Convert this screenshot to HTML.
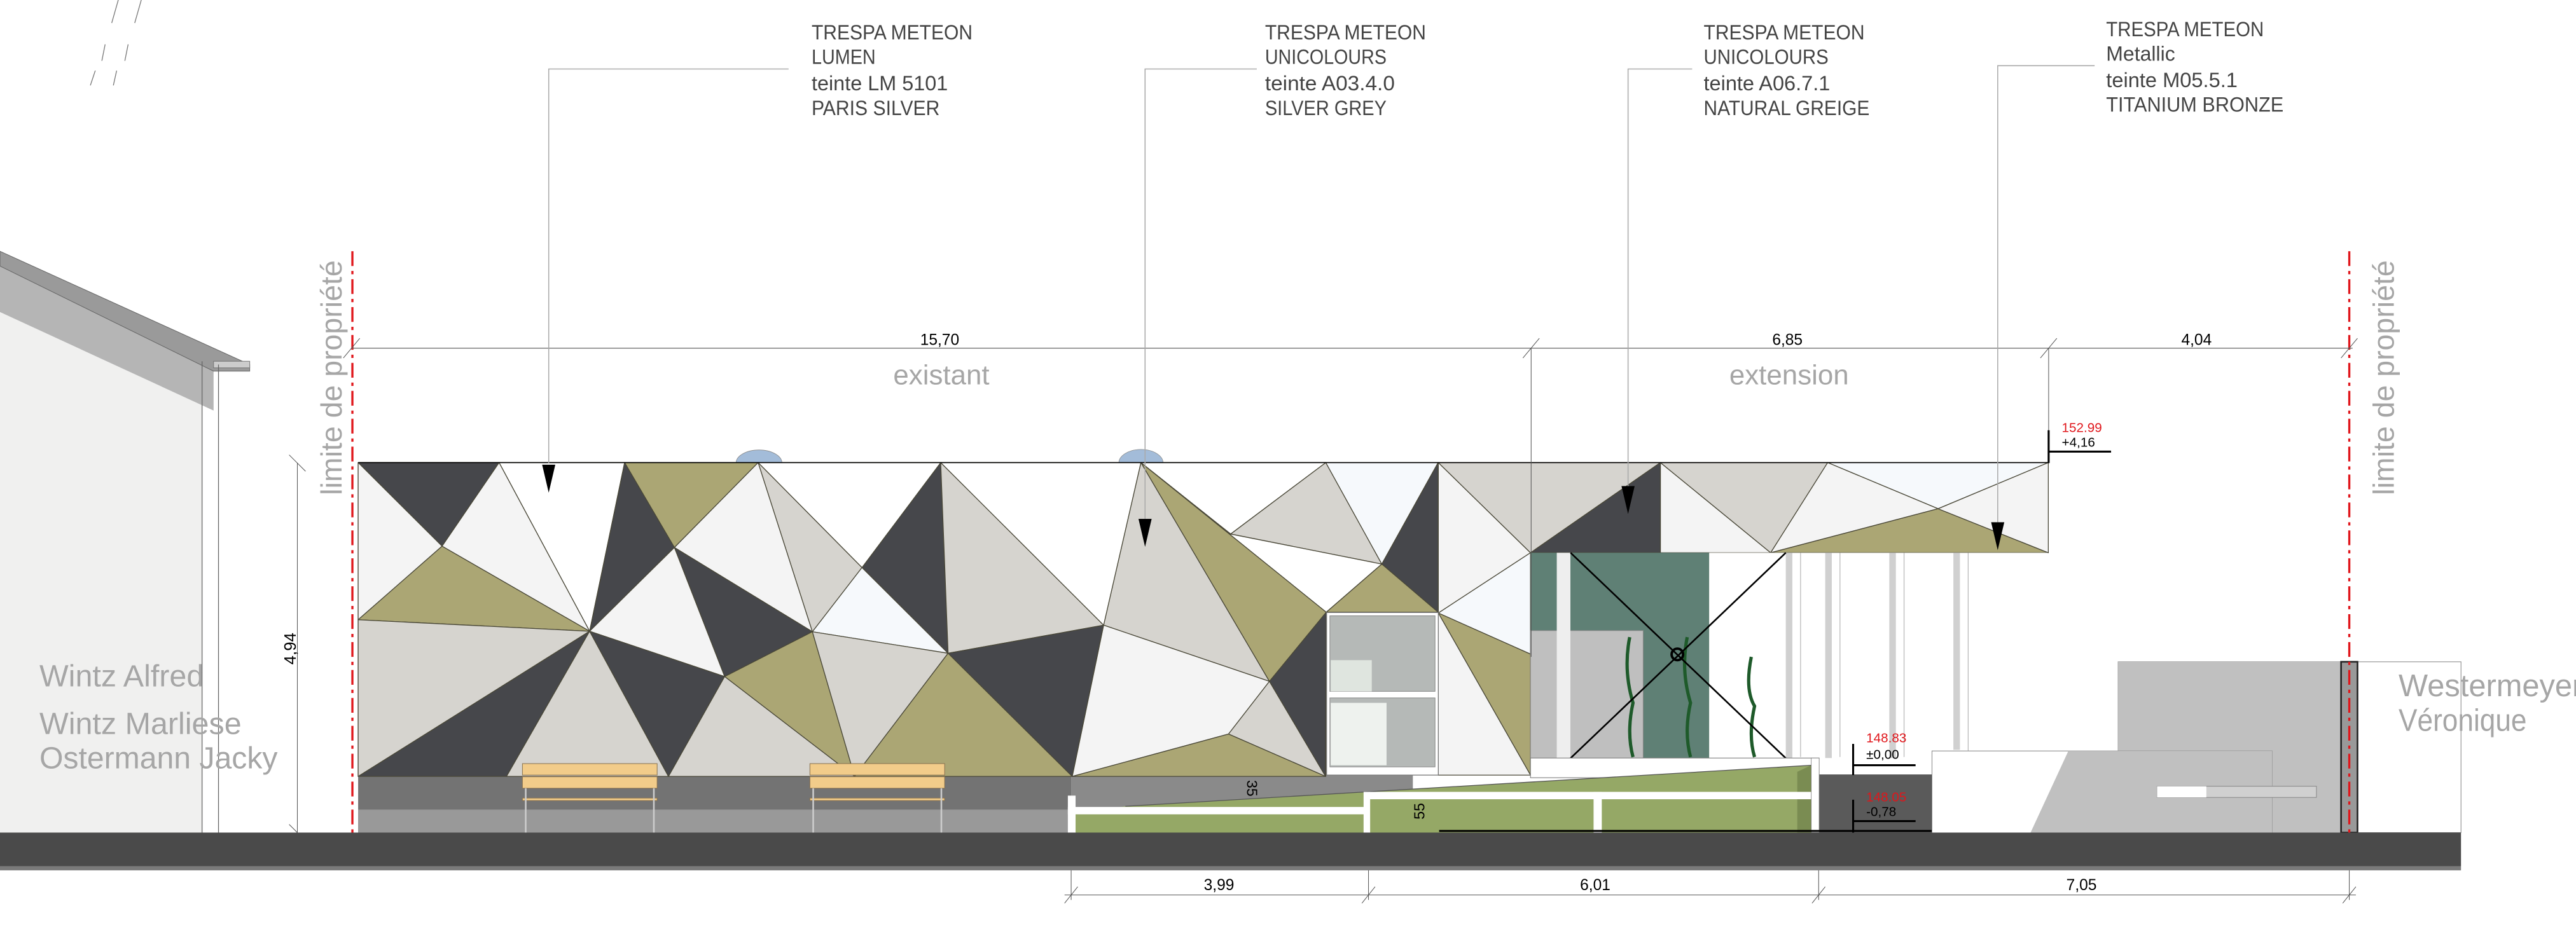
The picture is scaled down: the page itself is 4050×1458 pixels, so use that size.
<!DOCTYPE html>
<html><head><meta charset="utf-8"><style>
html,body{margin:0;padding:0;background:#fff;}
svg{display:block;}
text{font-family:"Liberation Sans",sans-serif;}
</style></head><body>
<svg width="4050" height="1458" viewBox="0 0 1568 564.5" preserveAspectRatio="none" xmlns="http://www.w3.org/2000/svg">
<rect width="1568" height="564.5" fill="#fff"/>

<g stroke="#777" stroke-width="0.5">
<line x1="72" y1="0" x2="68" y2="14"/><line x1="86" y1="0" x2="82" y2="14"/>
<line x1="64" y1="27" x2="62" y2="37"/><line x1="78" y1="27" x2="76" y2="37"/>
<line x1="58" y1="43" x2="55" y2="52"/><line x1="71" y1="43" x2="69" y2="52"/>
</g>

<!-- left house -->
<polygon points="0,157 123,215 123,507 0,507" fill="#f0f0ef"/>
<polygon points="0,157 130,219 130,250 0,190" fill="#b5b5b5"/>
<polygon points="0,153 152,222 152,226 130,226 0,162" fill="#9a9a9a" stroke="#666" stroke-width="0.4"/>
<rect x="130" y="220" width="22" height="4" fill="#ccc" stroke="#777" stroke-width="0.4"/>
<line x1="123" y1="220" x2="123" y2="507" stroke="#666" stroke-width="0.5"/>
<line x1="133" y1="222" x2="133" y2="507" stroke="#666" stroke-width="0.5"/>
<g font-size="18.5" fill="#a6a6a6">
<text x="24" y="418" textLength="100" lengthAdjust="spacingAndGlyphs">Wintz Alfred</text>
<text x="24" y="447" textLength="123" lengthAdjust="spacingAndGlyphs">Wintz Marliese</text>
<text x="24" y="468" textLength="145" lengthAdjust="spacingAndGlyphs">Ostermann Jacky</text>
</g>

<line x1="181" y1="282" x2="181" y2="507" stroke="#555" stroke-width="0.4"/>
<line x1="176" y1="277" x2="186" y2="287" stroke="#555" stroke-width="0.4"/>
<line x1="176" y1="502" x2="186" y2="512" stroke="#555" stroke-width="0.4"/>
<text transform="translate(180,395) rotate(-90)" font-size="10" fill="#000" text-anchor="middle">4,94</text>

<text transform="translate(208,230) rotate(-90)" font-size="18" fill="#a6a6a6" text-anchor="middle">limite de propriété</text>
<text transform="translate(1457,230) rotate(-90)" font-size="18" fill="#a6a6a6" text-anchor="middle">limite de propriété</text>

<rect x="218" y="472" width="434" height="35" fill="#737373"/>
<rect x="218" y="493" width="434" height="14" fill="#999"/>
<polygon points="652,472 860,472 860,485 652,495" fill="#8a8a8a"/>
<rect x="1107" y="471.6" width="69" height="36" fill="#5a5a5a"/>

<path d="M448,282 A14,8 0 0 1 476,282 Z" fill="#a3bcd9" stroke="#888" stroke-width="0.3"/>
<path d="M681,282 A13,8 0 0 1 708,282 Z" fill="#a3bcd9" stroke="#888" stroke-width="0.3"/>

<g stroke="#4a4838" stroke-width="0.5" stroke-linejoin="round">
<rect x="218" y="281.7" width="589" height="191" fill="#f4f4f4"/>
<polygon points="218,281.7 303.8,281.7 269.1,332.6" fill="#46474b"/>
<polygon points="218,281.7 269.1,332.6 218,377.4" fill="#f4f4f4"/>
<polygon points="303.8,281.7 380.2,281.7 358.9,384.4" fill="#ffffff"/>
<polygon points="303.8,281.7 269.1,332.6 358.9,384.4" fill="#f4f4f4"/>
<polygon points="218,377.4 269.1,332.6 358.9,384.4" fill="#aba674"/>
<polygon points="380.2,281.7 461.5,281.7 410.5,333.4" fill="#aba674"/>
<polygon points="380.2,281.7 410.5,333.4 358.9,384.4" fill="#46474b"/>
<polygon points="461.5,281.7 410.5,333.4 494.5,384.7" fill="#f4f4f4"/>
<polygon points="461.5,281.7 524.7,345.6 494.5,384.7" fill="#d6d4cf"/>
<polygon points="410.5,333.4 494.5,384.7 441.1,412" fill="#46474b"/>
<polygon points="410.5,333.4 358.9,384.4 441.1,412" fill="#f4f4f4"/>
<polygon points="524.7,345.6 494.5,384.7 577.1,397.8" fill="#f6f9fc"/>
<polygon points="572.6,281.7 524.7,345.6 577.1,397.8" fill="#46474b"/>
<polygon points="461.5,281.7 572.6,281.7 524.7,345.6" fill="#ffffff"/>
<polygon points="572.6,281.7 577.1,397.8 671.8,380.7" fill="#d6d4cf"/>
<polygon points="572.6,281.7 694.5,281.7 671.8,380.7" fill="#ffffff"/>
<polygon points="218,377.4 358.9,384.4 218,472.8" fill="#d6d4cf"/>
<polygon points="358.9,384.4 218,472.8 308.3,472.8" fill="#46474b"/>
<polygon points="358.9,384.4 308.3,472.8 406.9,472.8" fill="#d6d4cf"/>
<polygon points="358.9,384.4 441.1,412 406.9,472.8" fill="#46474b"/>
<polygon points="441.1,412 494.5,384.7 520.2,472.8" fill="#aba674"/>
<polygon points="441.1,412 520.2,472.8 406.9,472.8" fill="#d6d4cf"/>
<polygon points="494.5,384.7 577.1,397.8 520.2,472.8" fill="#d6d4cf"/>
<polygon points="577.1,397.8 520.2,472.8 652.7,472.8" fill="#aba674"/>
<polygon points="577.1,397.8 671.8,380.7 652.7,472.8" fill="#46474b"/>
<polygon points="694.5,281.7 671.8,380.7 772.7,414.9" fill="#d6d4cf"/>
<polygon points="694.5,281.7 807.3,372.8 772.7,414.9" fill="#aba674"/>
<polygon points="671.8,380.7 772.7,414.9 747.8,447 652.7,472.8" fill="#f4f4f4"/>
<polygon points="772.7,414.9 747.8,447 806.9,472.8" fill="#d6d4cf"/>
<polygon points="772.7,414.9 807.3,372.8 806.9,472.8" fill="#46474b"/>
<polygon points="747.8,447 806.9,472.8 652.7,472.8" fill="#aba674"/>
<polygon points="694.5,281.7 807,281.7 749.1,325.2" fill="#ffffff"/>
<polygon points="749.1,325.2 807,281.7 841.1,343.5" fill="#d6d4cf"/>
<polygon points="807,281.7 875.4,281.7 841.1,343.5" fill="#f6f9fc"/>
<polygon points="749.1,325.2 841.1,343.5 807.3,372.8 694.5,281.7" fill="#ffffff"/>
<polygon points="841.1,343.5 875.4,281.7 875.4,372.8" fill="#46474b"/>
<polygon points="841.1,343.5 875.4,372.8 807.3,372.8" fill="#aba674"/>
<polygon points="875.5,281.7 931.6,336.6 875.5,373.3" fill="#f4f4f4"/>
<polygon points="875.5,281.7 1010.7,281.7 931.6,336.6" fill="#d6d4cf"/>
<polygon points="931.6,336.6 1010.7,281.7 1010.7,336.6" fill="#46474b"/>
<polygon points="1010.7,281.7 1077.8,336.6 1010.7,336.6" fill="#f4f4f4"/>
<polygon points="1010.7,281.7 1112.5,281.7 1077.8,336.6" fill="#d6d4cf"/>
<polygon points="1112.5,281.7 1246.8,281.7 1179.7,309.8" fill="#f6f9fc"/>
<polygon points="1112.5,281.7 1179.7,309.8 1077.8,336.6" fill="#f4f4f4"/>
<polygon points="1077.8,336.6 1179.7,309.8 1246.8,336.6" fill="#aba674"/>
<polygon points="1179.7,309.8 1246.8,281.7 1246.8,336.6" fill="#f4f4f4"/>
<polygon points="875.5,373.3 931.6,336.6 931.6,398.3" fill="#f6f9fc"/>
<polygon points="875.5,373.3 931.6,398.3 931.6,472" fill="#aba674"/>
<polygon points="875.5,373.3 931.6,472 875.5,472" fill="#f4f4f4"/>
</g>
<line x1="218" y1="281.7" x2="1247" y2="281.7" stroke="#000" stroke-width="0.6"/>

<rect x="807.5" y="373" width="68" height="99" fill="#fff" stroke="#777" stroke-width="0.5"/>
<rect x="809.5" y="375" width="64" height="46" fill="#b5b9b7" stroke="#888" stroke-width="0.4"/>
<rect x="810" y="402" width="25" height="19" fill="#dfe5df"/>
<rect x="809.5" y="425" width="64" height="42" fill="#b5b9b7" stroke="#888" stroke-width="0.4"/>
<rect x="810" y="428" width="34" height="38" fill="#eef2ee"/>

<rect x="931.6" y="336.6" width="108.8" height="125" fill="#5f8075"/>
<rect x="931.6" y="384" width="68.6" height="77.7" fill="#bfbfbf" stroke="#888" stroke-width="0.4"/>
<line x1="955" y1="386" x2="955" y2="461" stroke="#999" stroke-width="0.4"/>
<rect x="947.6" y="336.6" width="8.3" height="125" fill="#eee"/>
<rect x="1040.4" y="336.6" width="206" height="125" fill="#fff"/>
<g fill="#d0d0d0">
<rect x="1087" y="336.6" width="4" height="125"/><rect x="1111" y="336.6" width="4" height="125"/>
<rect x="1150" y="336.6" width="4" height="125"/><rect x="1189" y="336.6" width="4" height="120"/>
</g>
<g stroke="#aaa" stroke-width="0.4" fill="none">
<line x1="1096" y1="336.6" x2="1096" y2="461"/><line x1="1120" y1="336.6" x2="1120" y2="461"/>
<line x1="1159" y1="336.6" x2="1159" y2="461"/><line x1="1198" y1="336.6" x2="1198" y2="458"/>
</g>
<g stroke="#1e5a2a" stroke-width="2" fill="none">
<path d="M992,388 q-4,20 2,40 q-4,18 0,33"/>
<path d="M1027,388 q-4,20 2,40 q-4,18 0,33"/>
<path d="M1066,400 q-4,20 2,30 q-4,18 0,31"/>
</g>
<g stroke="#000" stroke-width="1">
<line x1="956" y1="336.6" x2="1087" y2="461.7"/>
<line x1="1087" y1="336.6" x2="956" y2="461.7"/>
</g>
<circle cx="1021" cy="398.5" r="3.5" fill="none" stroke="#000" stroke-width="1.5"/>

<rect x="931.6" y="461.6" width="175.7" height="12" fill="#fff" stroke="#777" stroke-width="0.4"/>

<polygon points="652,507 652,496 685,491 1102.5,466 1107.3,466 1107.3,507" fill="#95a866"/>
<polygon points="1094,470 1102.5,466 1102.5,507 1094,507" fill="#7a8c52"/>
<line x1="685" y1="491" x2="1102.5" y2="466" stroke="#555" stroke-width="0.5"/>
<rect x="650" y="491.4" width="183" height="4.5" fill="#fff"/>
<rect x="833" y="482.2" width="270" height="4.5" fill="#fff"/>
<rect x="650" y="484.5" width="4.7" height="22.5" fill="#fff"/>
<rect x="830" y="482.2" width="4" height="25" fill="#fff"/>
<rect x="970" y="482.2" width="5" height="25" fill="#fff"/>
<rect x="1102.5" y="461.6" width="4.8" height="45.4" fill="#fff" stroke="#777" stroke-width="0.3"/>
<line x1="876" y1="506" x2="1176" y2="506" stroke="#000" stroke-width="1.2"/>
<text transform="translate(759,480) rotate(90)" font-size="9" fill="#000" text-anchor="middle">35</text>
<text transform="translate(867,494) rotate(-90)" font-size="9" fill="#000" text-anchor="middle">55</text>

<g fill="#f2cc8a" stroke="#8a7350" stroke-width="0.4">
<rect x="318" y="465" width="82" height="7"/><rect x="318" y="473" width="82" height="7"/><rect x="318" y="486" width="82" height="1.5"/>
<rect x="493" y="465" width="82" height="7"/><rect x="493" y="473" width="82" height="7"/><rect x="493" y="486" width="82" height="1.5"/>
</g>
<g stroke="#ccc" stroke-width="1">
<line x1="320" y1="480" x2="320" y2="507"/><line x1="398" y1="480" x2="398" y2="507"/>
<line x1="495" y1="480" x2="495" y2="507"/><line x1="573" y1="480" x2="573" y2="507"/>
</g>

<rect x="1289.3" y="403" width="208.7" height="104" fill="#fff" stroke="#888" stroke-width="0.4"/>
<rect x="1289.3" y="403" width="135.7" height="104" fill="#c0c0c0"/>
<rect x="1176" y="457.3" width="207" height="50" fill="#fff" stroke="#888" stroke-width="0.4"/>
<polygon points="1259,457.3 1383,457.3 1383,507 1236,507" fill="#c0c0c0"/>
<rect x="1313" y="478.8" width="97" height="6.8" fill="#d0d0d0" stroke="#888" stroke-width="0.4"/>
<rect x="1313" y="478.8" width="30" height="6.8" fill="#fff"/>
<rect x="1425" y="403" width="10" height="104" fill="#999" stroke="#222" stroke-width="1"/>
<g font-size="19" fill="#a6a6a6">
<text x="1460" y="424" textLength="112" lengthAdjust="spacingAndGlyphs">Westermeyer</text>
<text x="1460" y="445" textLength="78" lengthAdjust="spacingAndGlyphs">Véronique</text>
</g>

<rect x="0" y="507" width="1498" height="20.5" fill="#4a4a4a"/>
<rect x="0" y="527.5" width="1498" height="2.5" fill="#7a7a7a"/>

<line x1="214.5" y1="153" x2="214.5" y2="507" stroke="#e0161b" stroke-width="1.3" stroke-dasharray="9,3,2,3"/>
<line x1="1430" y1="153" x2="1430" y2="507" stroke="#e0161b" stroke-width="1.3" stroke-dasharray="9,3,2,3"/>

<g stroke="#555" stroke-width="0.4">
<line x1="214" y1="212" x2="1432" y2="212"/>
<line x1="209" y1="218" x2="219" y2="206"/><line x1="927" y1="218" x2="937" y2="206"/>
<line x1="1242" y1="218" x2="1252" y2="206"/><line x1="1425" y1="218" x2="1435" y2="206"/>
<line x1="932" y1="212" x2="932" y2="400"/>
<line x1="1247" y1="212" x2="1247" y2="282"/>
</g>
<g font-size="9.5" fill="#000" text-anchor="middle">
<text x="572" y="210">15,70</text><text x="1088" y="210">6,85</text><text x="1337" y="210">4,04</text>
</g>
<text x="573" y="234" font-size="17" fill="#a6a6a6" text-anchor="middle">existant</text>
<text x="1089" y="234" font-size="17" fill="#a6a6a6" text-anchor="middle">extension</text>

<g stroke="#555" stroke-width="0.4">
<line x1="648" y1="545" x2="1434" y2="545"/>
<line x1="652" y1="530" x2="652" y2="548"/><line x1="833" y1="530" x2="833" y2="548"/>
<line x1="1107" y1="530" x2="1107" y2="548"/><line x1="1430" y1="530" x2="1430" y2="548"/>
<line x1="648" y1="550" x2="656" y2="540"/><line x1="829" y1="550" x2="837" y2="540"/>
<line x1="1103" y1="550" x2="1111" y2="540"/><line x1="1426" y1="550" x2="1434" y2="540"/>
</g>
<g font-size="9.5" fill="#000" text-anchor="middle">
<text x="742" y="542">3,99</text><text x="971" y="542">6,01</text><text x="1267" y="542">7,05</text>
</g>

<g stroke="#000" stroke-width="1.2">
<line x1="1247" y1="275" x2="1285" y2="275"/><line x1="1247" y1="262" x2="1247" y2="282"/>
<line x1="1128" y1="466" x2="1166" y2="466"/><line x1="1128" y1="453" x2="1128" y2="472"/>
<line x1="1128" y1="500" x2="1166" y2="500"/><line x1="1128" y1="487" x2="1128" y2="507"/>
</g>
<g font-size="8">
<text x="1255" y="263" fill="#e0161b">152.99</text><text x="1255" y="272" fill="#000">+4,16</text>
<text x="1136" y="452" fill="#e0161b">148.83</text><text x="1136" y="462" fill="#000">±0,00</text>
<text x="1136" y="488" fill="#e0161b">148.05</text><text x="1136" y="497" fill="#000">-0,78</text>
</g>

<g stroke="#aaa" stroke-width="0.6" fill="none">
<polyline points="480,42 334,42 334,282"/>
<polyline points="765,42 697,42 697,316"/>
<polyline points="1030,42 991,42 991,296"/>
<polyline points="1275,40 1216,40 1216,318"/>
</g>
<g fill="#000">
<polygon points="330,283 338,283 334,300"/>
<polygon points="693,316 701,316 697,333"/>
<polygon points="987,296 995,296 991,313"/>
<polygon points="1212,318 1220,318 1216,335"/>
</g>

<g font-size="12.5" fill="#444" lengthAdjust="spacingAndGlyphs">
<text x="494" y="24" textLength="98" lengthAdjust="spacingAndGlyphs">TRESPA METEON</text><text x="494" y="39" textLength="39" lengthAdjust="spacingAndGlyphs">LUMEN</text><text x="494" y="55" textLength="83" lengthAdjust="spacingAndGlyphs">teinte LM 5101</text><text x="494" y="70" textLength="78" lengthAdjust="spacingAndGlyphs">PARIS SILVER</text>
<text x="770" y="24" textLength="98" lengthAdjust="spacingAndGlyphs">TRESPA METEON</text><text x="770" y="39" textLength="74" lengthAdjust="spacingAndGlyphs">UNICOLOURS</text><text x="770" y="55" textLength="79" lengthAdjust="spacingAndGlyphs">teinte A03.4.0</text><text x="770" y="70" textLength="74" lengthAdjust="spacingAndGlyphs">SILVER GREY</text>
<text x="1037" y="24" textLength="98" lengthAdjust="spacingAndGlyphs">TRESPA METEON</text><text x="1037" y="39" textLength="76" lengthAdjust="spacingAndGlyphs">UNICOLOURS</text><text x="1037" y="55" textLength="77" lengthAdjust="spacingAndGlyphs">teinte A06.7.1</text><text x="1037" y="70" textLength="101" lengthAdjust="spacingAndGlyphs">NATURAL GREIGE</text>
<text x="1282" y="22" textLength="96" lengthAdjust="spacingAndGlyphs">TRESPA METEON</text><text x="1282" y="37" textLength="42" lengthAdjust="spacingAndGlyphs">Metallic</text><text x="1282" y="53" textLength="80" lengthAdjust="spacingAndGlyphs">teinte M05.5.1</text><text x="1282" y="68" textLength="108" lengthAdjust="spacingAndGlyphs">TITANIUM BRONZE</text>
</g>
</svg>
</body></html>
